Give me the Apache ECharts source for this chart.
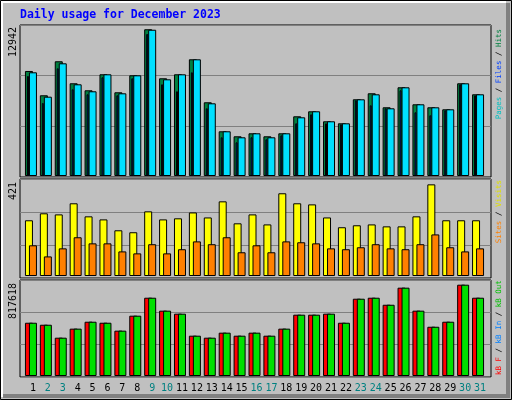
<!DOCTYPE html>
<html>
<head>
<meta charset="utf-8">
<script src="https://cdn.jsdelivr.net/npm/echarts@6/dist/echarts.min.js"></script>
<style>
html, body { margin: 0; padding: 0; background: #c0c0c0; }
#box { width: 512px; height: 400px; }
</style>
</head>
<body>
<div id="box"></div>
<script>
var days = [];
for (var d = 1; d <= 31; d++) days.push(String(d));
var weekend = ['2', '3', '9', '10', '16', '17', '23', '24', '30', '31'];

var hits = [9263, 7120, 10119, 8178, 7560, 8972, 7384, 8884, 12942, 8619, 8972, 10295, 6502, 3943, 3502, 3767,
    3502, 3767, 5267, 5708, 4826, 4649, 6767, 7296, 6061, 7825, 6325, 6061, 5884, 8178, 7208];
var files = [8820, 6439, 9499, 7647, 7206, 8705, 7118, 8617, 12524, 8088, 7471, 9146, 5971, 3413, 2972, 3413,
    3237, 3590, 4648, 5442, 4648, 4560, 6677, 6236, 5971, 7559, 5618, 5354, 5795, 8088, 7118];
var pages = [9146, 6994, 9940, 8088, 7471, 8970, 7294, 8882, 12900, 8529, 8970, 10293, 6412, 3943, 3413, 3766,
    3413, 3766, 5177, 5707, 4825, 4648, 6765, 7206, 5971, 7823, 6324, 6059, 5883, 8176, 7206];
var visits = [256, 288, 283, 334, 274, 260, 210, 201, 297, 260, 265, 292, 269, 343, 242, 283,
    237, 380, 334, 329, 269, 224, 233, 237, 228, 228, 274, 421, 256, 256, 256];
var sites = [141, 90, 127, 178, 150, 150, 113, 104, 146, 104, 123, 159, 146, 178, 109, 141,
    109, 159, 155, 150, 127, 123, 132, 146, 127, 123, 146, 191, 132, 113, 127];
var kbF = [477000, 459000, 343000, 424000, 486000, 477000, 406000, 540000, 701000, 585000, 558000, 361000, 343000, 388000, 361000, 388000,
    361000, 424000, 549000, 549000, 558000, 477000, 692000, 701000, 638000, 791000, 585000, 441000, 486000, 817618, 701000];
var kbOut = kbF.slice();

var maxLabels = ['12942', '421', '817618'];

var mono = 'DejaVu Sans Mono';
var grids = [], xAxes = [], yAxes = [], series = [];

function frame(top, h) {
    grids.push({left: 20, top: top, width: 471, height: h, show: true, backgroundColor: '#c0c0c0', borderColor: '#000', borderWidth: 1});
    var i = grids.length - 1;
    xAxes.push({gridIndex: i, type: 'category', data: days, show: false});
    yAxes.push({gridIndex: i, type: 'value', min: 0, max: 3, interval: 1, axisLine: {show: false}, axisLabel: {show: false},
        axisTick: {show: false}, splitLine: {lineStyle: {color: '#808080', width: 1}}});
    series.push({type: 'line', xAxisIndex: i, yAxisIndex: i, data: [], silent: true});
}

function bars(left, top, h, max, data, color, width, showLabels) {
    grids.push({left: left, top: top, width: 462, height: h});
    var i = grids.length - 1;
    xAxes.push({gridIndex: i, type: 'category', data: days, axisLine: {show: false}, axisTick: {show: false},
        axisLabel: {show: !!showLabels, margin: 7, fontFamily: mono, fontSize: 10, interval: 0,
            color: function (v) { return weekend.indexOf(v) >= 0 ? '#008080' : '#000'; }}});
    yAxes.push({gridIndex: i, type: 'value', min: 0, max: max, show: false, splitLine: {show: false}});
    series.push({type: 'bar', xAxisIndex: i, yAxisIndex: i, data: data, barWidth: width, silent: true,
        itemStyle: {color: color, borderColor: '#000', borderWidth: 1}});
}

frame(25, 152);
frame(179, 99);
frame(280, 97);

bars(21.5, 26, 150, 13230, hits, '#008040', 8);
bars(20.5, 26, 150, 13230, files, '#0040ff', 2);
bars(25.5, 26, 150, 13230, pages, '#00e0ff', 8);

bars(21.5, 180, 96, 441, visits, '#ffff00', 8);
bars(25.5, 180, 96, 441, sites, '#ff8000', 8);

bars(21.5, 281, 95, 850750, kbF, '#ff0000', 8);
bars(25.5, 281, 95, 850750, kbOut, '#00e000', 8, true);

function vtext(x, y, align, rich, text, size) {
    return {type: 'text', x: x, y: y, rotation: Math.PI / 2,
        style: {text: text, rich: rich, align: align, verticalAlign: 'middle', fontFamily: mono, fontSize: size, fill: '#000'}};
}

var legendRich = {
    pg: {fill: '#00c0c0', fontFamily: mono, fontSize: 7.5}, fl: {fill: '#0040ff', fontFamily: mono, fontSize: 7.5},
    ht: {fill: '#008040', fontFamily: mono, fontSize: 7.5}, s: {fill: '#000', fontFamily: mono, fontSize: 7.5},
    st: {fill: '#ff8000', fontFamily: mono, fontSize: 7.5}, vs: {fill: '#e0e000', fontFamily: mono, fontSize: 7.5},
    kf: {fill: '#ff0000', fontFamily: mono, fontSize: 7.5}, ki: {fill: '#0080ff', fontFamily: mono, fontSize: 7.5},
    ko: {fill: '#00c000', fontFamily: mono, fontSize: 7.5}
};

var myChart = echarts.init(document.getElementById('box'));
var option = {
    backgroundColor: '#c0c0c0',
    animation: false,
    grid: grids,
    xAxis: xAxes,
    yAxis: yAxes,
    series: series,
    graphic: [
        // outer border with bevel
        {type: 'rect', shape: {x: 0.5, y: 0.5, width: 511, height: 399}, style: {fill: null, stroke: '#000', lineWidth: 1}, z: 100},
        {type: 'polyline', shape: {points: [[2, 397], [2, 2], [506, 2]]}, style: {fill: null, stroke: '#fff', lineWidth: 2}, z: 100},
        {type: 'polyline', shape: {points: [[508, 3], [508, 396], [3, 396]]}, style: {fill: null, stroke: '#808080', lineWidth: 4}, z: 100},
        {type: 'text', x: 20, y: 15, style: {text: 'Daily usage for December 2023', fontFamily: mono, fontWeight: 'bold',
            fontSize: 11.5, fill: '#0000ff', verticalAlign: 'middle'}},
        vtext(13, 27, 'right', null, maxLabels[0], 10),
        vtext(13, 182, 'right', null, maxLabels[1], 10),
        vtext(13, 283, 'right', null, maxLabels[2], 10),
        vtext(499, 29, 'right', legendRich, '{pg|Pages}{s| / }{fl|Files}{s| / }{ht|Hits}', 7.5),
        vtext(499, 180, 'right', legendRich, '{st|Sites}{s| / }{vs|Visits}', 7.5),
        vtext(499, 375, 'left', legendRich, '{kf|kB F}{s| / }{ki|kB In}{s| / }{ko|kB Out}', 7.5)
    ]
};
myChart.setOption(option);
</script>
</body>
</html>
